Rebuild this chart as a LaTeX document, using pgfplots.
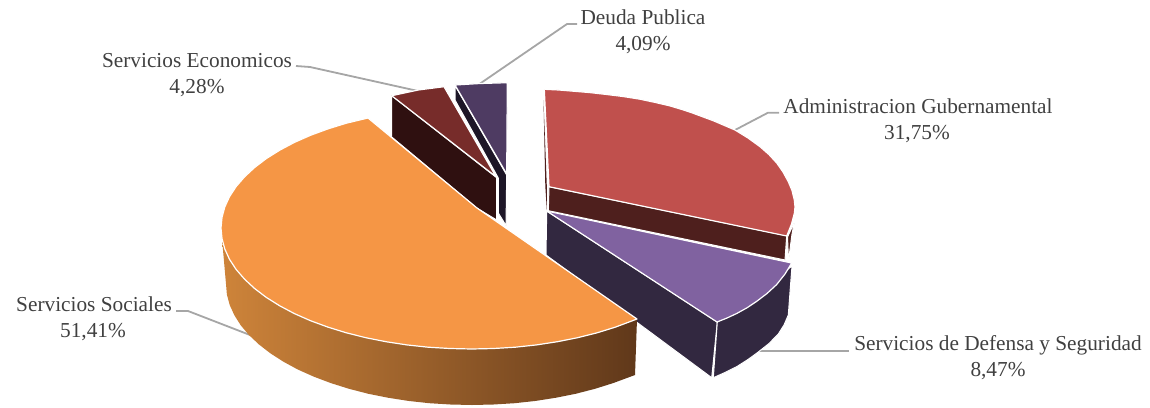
\documentclass[border=0pt]{standalone}
\usepackage{pgfplots}
\usepackage{fontspec}
\setmainfont{Liberation Serif}
\pgfplotsset{compat=1.18}
\definecolor{txt}{HTML}{404040}
\definecolor{lead}{HTML}{A6A6A6}
\definecolor{orangeT}{HTML}{F59645}
\definecolor{redT}{HTML}{C0504D}
\definecolor{redS}{HTML}{4E1F1D}
\definecolor{purT}{HTML}{8062A0}
\definecolor{purS}{HTML}{322840}
\definecolor{ecoT}{HTML}{772C2A}
\definecolor{ecoS}{HTML}{2F1010}
\definecolor{deuT}{HTML}{4E3B62}
\definecolor{deuS}{HTML}{1D1627}
\begin{document}
\begin{tikzpicture}
\begin{axis}[
  hide axis, scale only axis, width=1150pt, height=407pt,
  xmin=0, xmax=1150, ymin=0, ymax=407, y dir=reverse,
  clip=false,
  every axis plot/.append style={no marks, solid, line join=round},
]
% bounding corners
\addplot[draw=none] coordinates {(0,0) (1150,407)};
% leader lines
\addplot[lead, line width=1.8pt] coordinates {(478,85) (567,24) (577,24)};
\addplot[lead, line width=1.8pt] coordinates {(296,66) (310,67) (418,91)};
\addplot[lead, line width=1.8pt] coordinates {(735,130) (768,112.7) (779,112.7)};
\addplot[lead, line width=1.8pt] coordinates {(758,350.7) (849,350.7)};
\addplot[lead, line width=1.8pt] coordinates {(176,311) (188,311) (250,335)};
% Defensa
\addplot[fill=purS, draw=white, line width=1pt] coordinates {(546.7,211) (546,255) (711.7,377.7) (717.3,322) (546.7,211)};
\addplot[fill=purS, draw=white, line width=1pt] coordinates {(717.3,322) (713.3,377.7) (725,372.5) (736.7,366.7) (748,359.5) (758.3,352) (769,343.5) (778.3,334) (784,325) (788.3,315) (790,292) (792,266) (717.3,322)};
\addplot[fill=purT, draw=white, line width=1.2pt] coordinates {(546.7,211) (791.7,263) (785,274) (776.7,284.5) (767,293.5) (756.7,301.3) (747,307.8) (736.7,313.5) (727,318) (717,322) (546.7,211)};
% Administracion
\addplot[fill=redS, draw=none] coordinates {(543.5,100) (546.8,186) (546.8,210) (545.3,186) (543.5,100)};
\addplot[fill=redS, draw=white, line width=1pt] coordinates {(787.5,237) (794.5,222) (792,234) (788.5,261) (787.5,237)};
\addplot[fill=redS, draw=white, line width=1pt] coordinates {(549,186.7) (786.7,235.7) (785,260) (548.3,210.7) (549,186.7)};
\addplot[fill=redT, draw=white, line width=1.2pt] coordinates {(544.3,89.3) (559,90) (573.3,91.2) (590,92.6) (606.7,94.5) (623,96.5) (640,99.2) (655,102.4) (670,105.9) (682,109.5) (693.3,113.3) (714,121) (735,130) (748,138) (760,146.7) (769,154.6) (776.7,163) (783,172) (788.3,181.7) (792,190.5) (794.3,200) (795,207) (794.3,213.5) (791.5,224) (786.7,236) (549,186.7) (544.3,89.3)};
% Economicos
\addplot[fill=ecoS, draw=white, line width=1pt] coordinates {(391.7,95.7) (391.7,137) (476.7,208) (496.7,220) (496.7,177.7) (391.7,95.7)};
\addplot[fill=ecoT, draw=white, line width=1.2pt] coordinates {(391.7,95.7) (418.3,90) (444,86.7) (496,176.7) (391.7,95.7)};
% Deuda
\addplot[fill=deuS, draw=white, line width=1pt] coordinates {(455,85.5) (506.7,175) (506,225.5) (498.3,213) (498.3,178) (455,100) (455,85.5)};
\addplot[fill=deuT, draw=white, line width=1.2pt] coordinates {(455,85) (480,83.5) (507.3,82.7) (506.7,174) (455,85)};
% Sociales side
\addplot[draw=none, shading=axis, left color={rgb,255:red,206;green,132;blue,58}, middle color={rgb,255:red,163;green,100;blue,47}, right color={rgb,255:red,96;green,56;blue,26}] coordinates {(222,238.6) (224.8,249) (229.5,259.3) (236.1,269.4) (244.5,279.1) (254.6,288.5) (266.3,297.4) (279.7,305.8) (294.4,313.6) (310.5,320.7) (327.9,327.1) (346.3,332.8) (365.8,337.7) (386,341.7) (406.8,344.9) (428.1,347.2) (449.8,348.5) (471.7,349) (493.6,348.5) (515.3,347.2) (536.6,344.9) (557.4,341.7) (577.6,337.7) (597.1,332.8) (615.5,327.1) (637,319) (635,375) (613.1,383.1) (595,388.8) (576,393.7) (556.1,397.7) (535.7,400.9) (514.7,403.2) (493.4,404.5) (472,405) (450.6,404.5) (429.3,403.2) (408.3,400.9) (387.9,397.7) (368,393.7) (349,388.8) (330.9,383.1) (313.9,376.7) (298,369.6) (283.6,361.8) (270.5,353.4) (259,344.5) (249,335.1) (240.8,325.4) (234.4,315.3) (229.7,305) (226.9,294.6) (226,284) (222,238.6)};
% Sociales top
\addplot[fill=orangeT, draw=white, line width=1.2pt] coordinates {(368,118) (346.3,123.2) (327.9,128.9) (310.5,135.3) (294.4,142.4) (279.7,150.2) (266.3,158.6) (254.6,167.5) (244.5,176.9) (236.1,186.6) (229.5,196.7) (224.8,207) (222,217.4) (221,228) (222,238.6) (224.8,249) (229.5,259.3) (236.1,269.4) (244.5,279.1) (254.6,288.5) (266.3,297.4) (279.7,305.8) (294.4,313.6) (310.5,320.7) (327.9,327.1) (346.3,332.8) (365.8,337.7) (386,341.7) (406.8,344.9) (428.1,347.2) (449.8,348.5) (471.7,349) (493.6,348.5) (515.3,347.2) (536.6,344.9) (557.4,341.7) (577.6,337.7) (597.1,332.8) (615.5,327.1) (637,319) (477,208) (368,118)};
% labels
\tikzset{lab/.style={font=\fontsize{21.3}{22}\selectfont, text=txt, anchor=base, inner sep=0pt}}
\node[lab] at (axis cs:643,24) {Deuda Publica};
\node[lab] at (axis cs:643,50) {4,09\%};
\node[lab] at (axis cs:197,67) {Servicios Economicos};
\node[lab] at (axis cs:197,93) {4,28\%};
\node[lab] at (axis cs:918,113) {Administracion Gubernamental};
\node[lab] at (axis cs:917,139) {31,75\%};
\node[lab] at (axis cs:94,311) {Servicios Sociales};
\node[lab] at (axis cs:93,337) {51,41\%};
\node[lab] at (axis cs:998,350) {Servicios de Defensa y Seguridad};
\node[lab] at (axis cs:998,376) {8,47\%};
\end{axis}
\end{tikzpicture}
\end{document}
